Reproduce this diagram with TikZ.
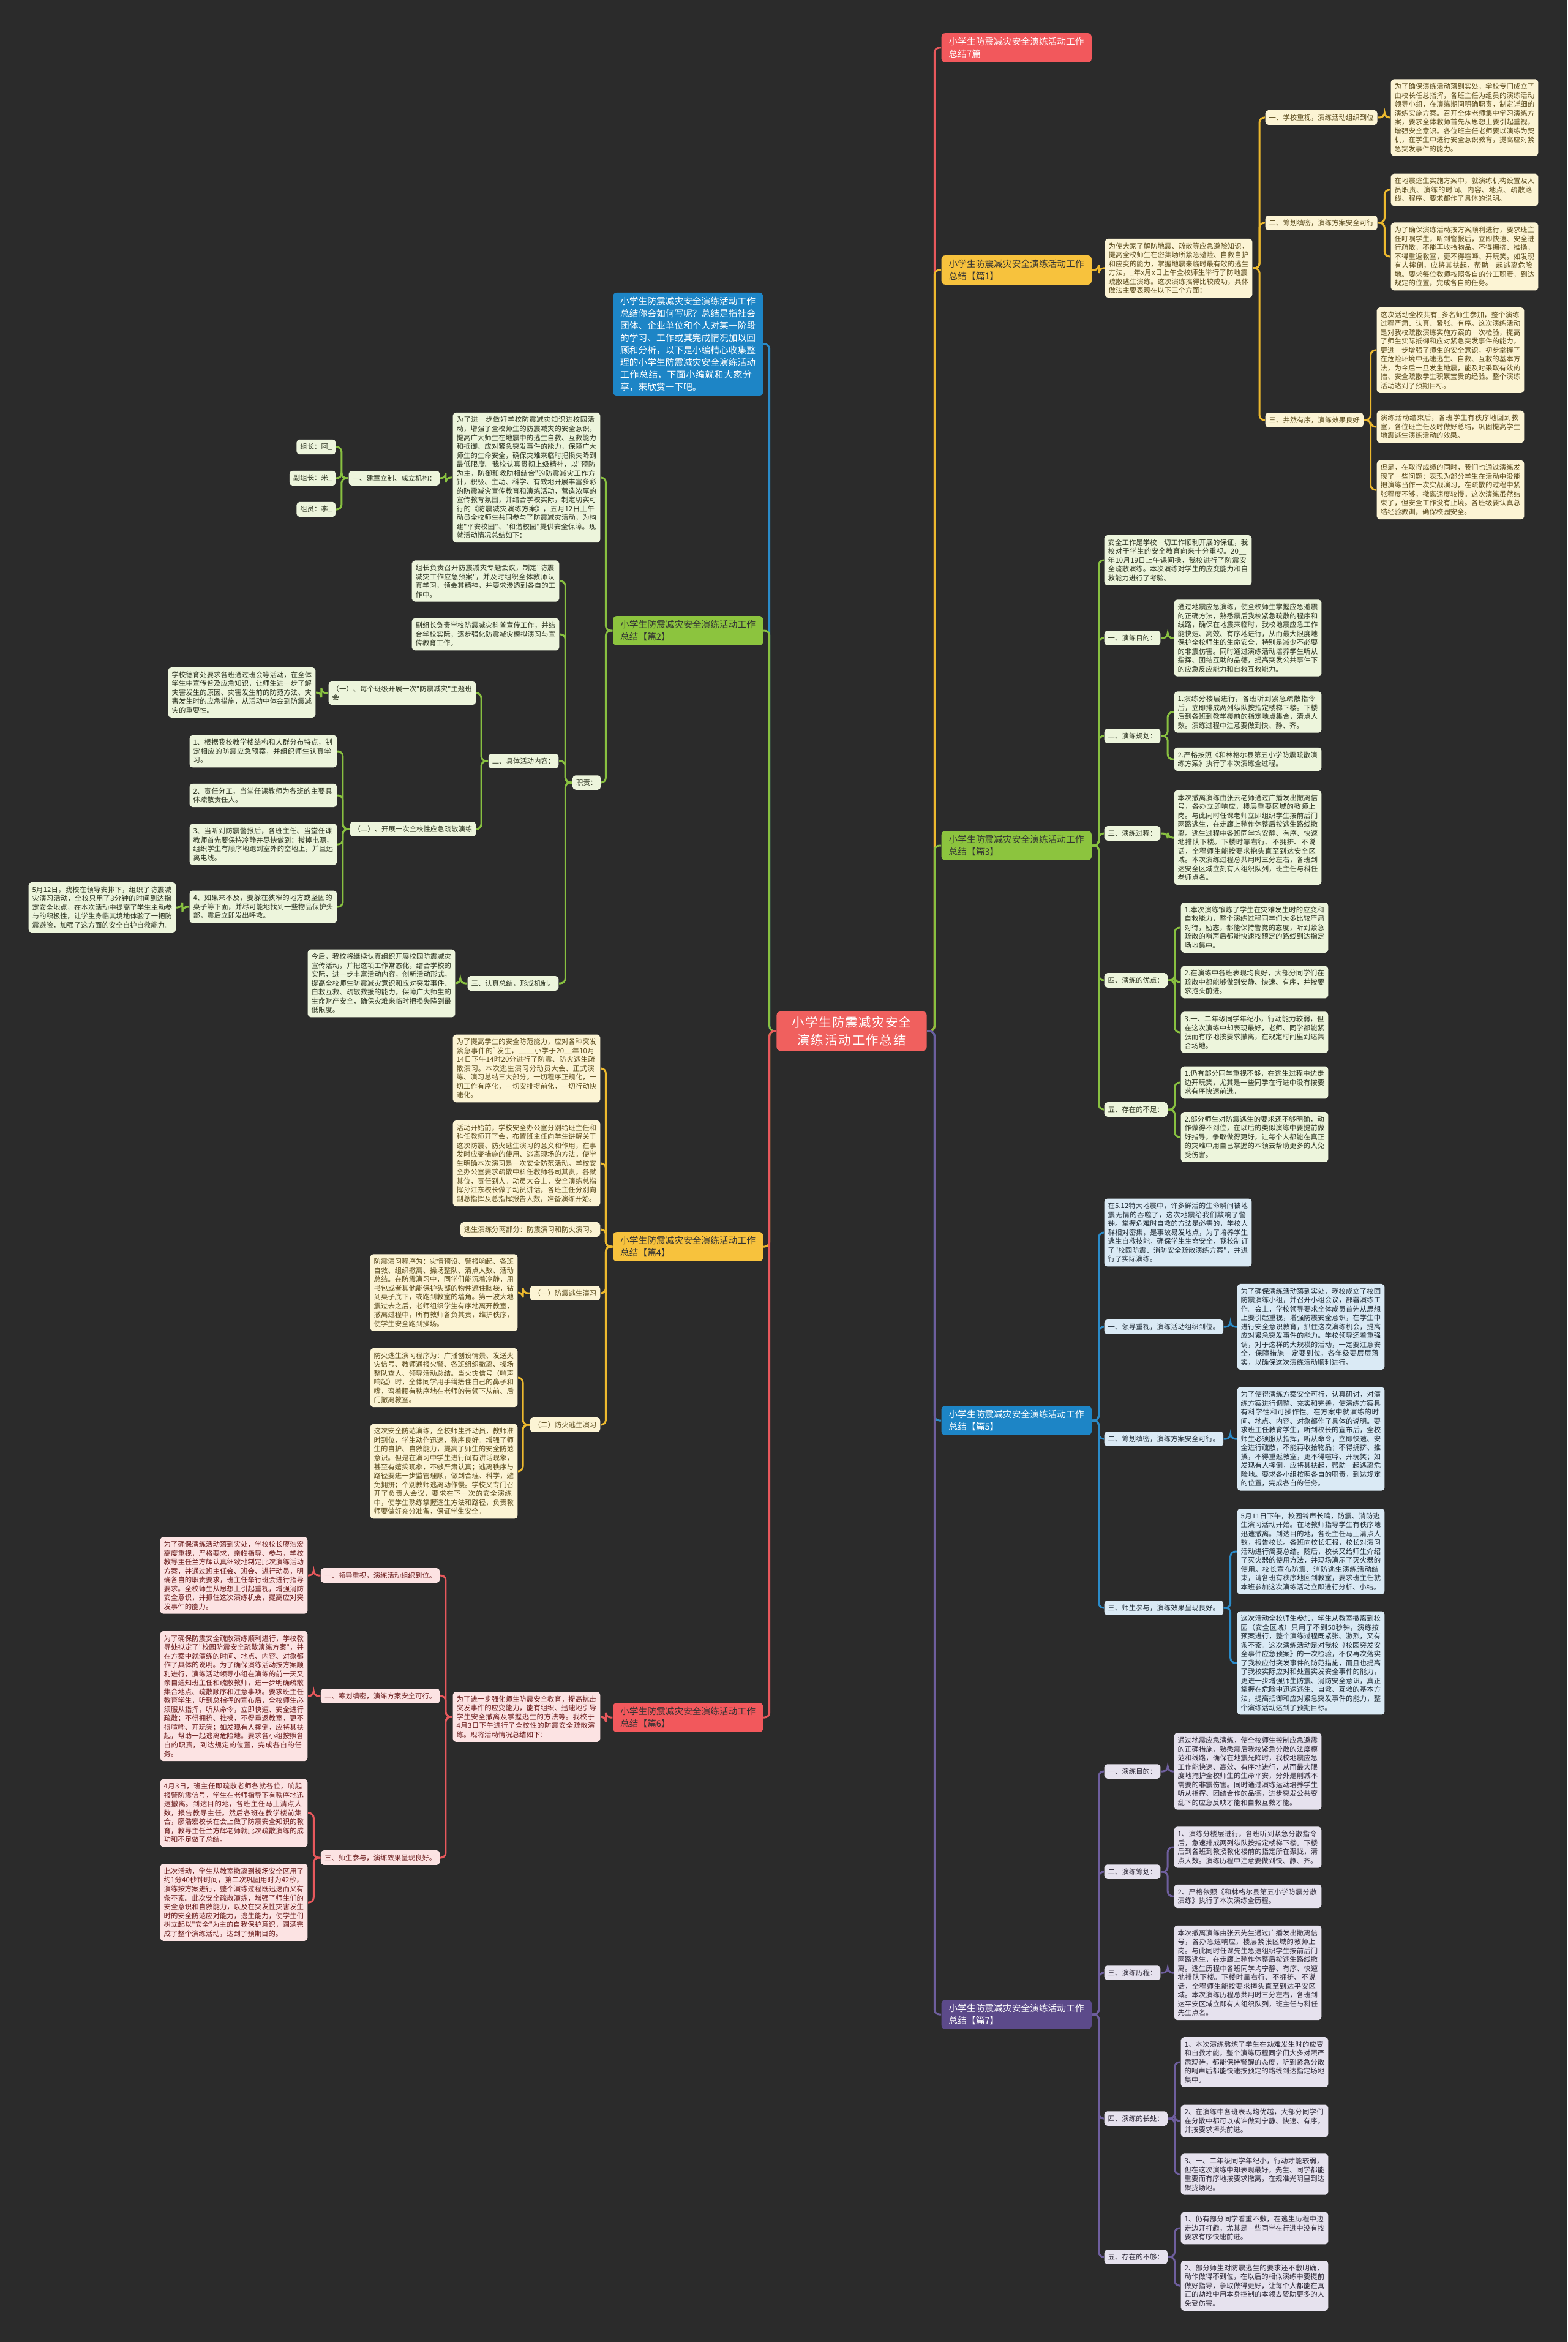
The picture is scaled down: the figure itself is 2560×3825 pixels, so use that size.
\documentclass[tikz,border=0pt]{standalone}
\usepackage{fontspec}
\newfontfamily\cjk{Noto Sans CJK SC}
\XeTeXlinebreaklocale "zh"
\XeTeXlinebreakskip=0pt plus 1pt

\definecolor{bg}{HTML}{2B2B2B}
\definecolor{cfill}{HTML}{F0605E}
\definecolor{ymain}{HTML}{F7C23D}\definecolor{yl}{HTML}{EDB92E}\definecolor{yfill}{HTML}{FCF4D4}\definecolor{ytext}{HTML}{5A4A1C}
\definecolor{gmain}{HTML}{8CC43E}\definecolor{gl}{HTML}{88C040}\definecolor{gfill}{HTML}{EDF5DC}\definecolor{gtext}{HTML}{2C3320}
\definecolor{bmain}{HTML}{1D85C6}\definecolor{bl}{HTML}{2A8BC9}\definecolor{bfill}{HTML}{DAEAF5}\definecolor{btext}{HTML}{1F2B35}
\definecolor{rmain}{HTML}{F2585C}\definecolor{rl}{HTML}{E8585C}\definecolor{rfill}{HTML}{FCE3E3}\definecolor{rtext}{HTML}{6A1B1B}
\definecolor{pmain}{HTML}{5C4A8A}\definecolor{pl}{HTML}{6E5E9E}\definecolor{pfill}{HTML}{E6E2EE}\definecolor{ptext}{HTML}{2C2736}

\tikzset{
  leafbox/.style={rounded corners=0.05cm, inner xsep=0.06cm, inner ysep=0.065cm, align=left,
    font=\cjk\fontsize{3.24pt}{4.13pt}\selectfont},
  notebox/.style={leafbox, text width=2.285cm},
  headbox/.style={rounded corners=0.06cm, inner xsep=0.12cm, inner ysep=0.07cm, align=left,
    text width=2.21cm, font=\cjk\fontsize{4.18pt}{5.69pt}\selectfont},
  rootbox/.style={rounded corners=0.06cm, fill=cfill, text=white, text width=2.25cm, align=center,
    inner xsep=0.1cm, inner ysep=0.08cm, font=\cjk\fontsize{5.8pt}{8.25pt}\selectfont},
  branchline/.style={line width=0.03cm, rounded corners=0.08cm},
  ylab/.style={leafbox, fill=yfill, text=ytext}, ynote/.style={notebox, fill=yfill, text=ytext},
  ytop/.style={headbox, fill=ymain, text=black!80}, yline/.style={branchline, draw=yl},
  glab/.style={leafbox, fill=gfill, text=gtext}, gnote/.style={notebox, fill=gfill, text=gtext},
  gtop/.style={headbox, fill=gmain, text=black!80}, gline/.style={branchline, draw=gl},
  blab/.style={leafbox, fill=bfill, text=btext}, bnote/.style={notebox, fill=bfill, text=btext},
  btop/.style={headbox, fill=bmain, text=white}, bline/.style={branchline, draw=bl},
  rlab/.style={leafbox, fill=rfill, text=rtext}, rnote/.style={notebox, fill=rfill, text=rtext},
  rtop/.style={headbox, fill=rmain, text=black!80}, rline/.style={branchline, draw=rl},
  plab/.style={leafbox, fill=pfill, text=ptext}, pnote/.style={notebox, fill=pfill, text=ptext},
  ptop/.style={headbox, fill=pmain, text=white}, pline/.style={branchline, draw=pl}
}

\begin{document}
\begin{tikzpicture}[x=0.01cm, y=-0.01cm]
\fill[bg] (0,0) rectangle (2560,3825);
\useasboundingbox (0,0) rectangle (2560,3825);

\node[rootbox] (ctr) at (1391,1684) {小学生防震减灾安全演练活动工作总结};

% right side
\node[rtop, text=white, anchor=west] (t7) at (1537,78) {小学生防震减灾安全演练活动工作总结7篇};

\node[ytop, anchor=west] (p1) at (1537,441) {小学生防震减灾安全演练活动工作总结【篇1】};
\node[ynote, anchor=west] (p1t) at (1804,438) {为使大家了解防地震、疏散等应急避险知识，提高全校师生在密集场所紧急避险、自救自护和应变的能力，掌握地震来临时最有效的逃生方法，\_年x月x日上午全校师生举行了防地震疏散逃生演练。这次演练搞得比较成功，具体做法主要表现在以下三个方面：};
\node[ylab, anchor=west] (p1a) at (2066,192) {一、学校重视，演练活动组织到位};
\node[ynote, anchor=west] (p1a1) at (2271,192) {为了确保演练活动落到实处，学校专门成立了由校长任总指挥，各班主任为组员的演练活动领导小组，在演练期间明确职责，制定详细的演练实施方案。召开全体老师集中学习演练方案，要求全体教师首先从思想上要引起重视，增强安全意识。各位班主任老师要以演练为契机，在学生中进行安全意识教育，提高应对紧急突发事件的能力。};
\node[ylab, anchor=west] (p1b) at (2066,364) {二、筹划缜密，演练方案安全可行};
\node[ynote, anchor=west] (p1b1) at (2271,310) {在地震逃生实施方案中，就演练机构设置及人员职责、演练的时间、内容、地点、疏散路线、程序、要求都作了具体的说明。};
\node[ynote, anchor=west] (p1b2) at (2271,419) {为了确保演练活动按方案顺利进行，要求班主任叮嘱学生，听到警报后，立即快速、安全进行疏散，不能再收拾物品。不得拥挤、推搡，不得重返教室，更不得喧哗、开玩笑。如发现有人摔倒，应将其扶起，帮助一起逃离危险地。要求每位教师按照各自的分工职责，到达规定的位置，完成各自的任务。};
\node[ylab, anchor=west] (p1c) at (2066,686) {三、井然有序，演练效果良好};
\node[ynote, anchor=west] (p1c1) at (2248,572) {这次活动全校共有\_多名师生参加，整个演练过程严肃、认真、紧张、有序。这次演练活动是对我校疏散演练实施方案的一次检验，提高了师生实际抵御和应对紧急突发事件的能力，更进一步增强了师生的安全意识，初步掌握了在危险环境中迅速逃生、自救、互救的基本方法，为今后一旦发生地震，能及时采取有效的措、安全疏散学生积累宝贵的经验。整个演练活动达到了预期目标。};
\node[ynote, anchor=west] (p1c2) at (2248,697) {演练活动结束后，各班学生有秩序地回到教室，各位班主任及时做好总结，巩固提高学生地震逃生演练活动的效果。};
\node[ynote, anchor=west] (p1c3) at (2248,800) {但是，在取得成绩的同时，我们也通过演练发现了一些问题：表现为部分学生在活动中没能把演练当作一次实战演习，在疏散的过程中紧张程度不够，撤离速度较慢。这次演练虽然结束了，但安全工作没有止境。各班级要认真总结经验教训，确保校园安全。};

\node[gtop, anchor=west] (p3) at (1537,1381) {小学生防震减灾安全演练活动工作总结【篇3】};
\node[gnote, anchor=west] (p3t) at (1803,915) {安全工作是学校一切工作顺利开展的保证，我校对于学生的安全教育向来十分重视。20\_\_年10月19日上午课间操，我校进行了防震安全疏散演练。本次演练对学生的应变能力和自救能力进行了考验。};
\node[glab, anchor=west] (p3a) at (1803,1042) {一、演练目的：};
\node[gnote, anchor=west] (p3a1) at (1917,1042) {通过地震应急演练，使全校师生掌握应急避震的正确方法，熟悉震后我校紧急疏散的程序和线路，确保在地震来临时，我校地震应急工作能快速、高效、有序地进行，从而最大限度地保护全校师生的生命安全，特别是减少不必要的非震伤害。同时通过演练活动培养学生听从指挥、团结互助的品德，提高突发公共事件下的应急反应能力和自救互救能力。};
\node[glab, anchor=west] (p3b) at (1803,1202) {二、演练规划：};
\node[gnote, anchor=west] (p3b1) at (1917,1163) {1.演练分楼层进行，各班听到紧急疏散指令后，立即排成两列纵队按指定楼梯下楼。下楼后到各班到教学楼前的指定地点集合，清点人数。演练过程中注意要做到快、静、齐。};
\node[gnote, anchor=west] (p3b2) at (1917,1240) {2.严格按照《和林格尔县第五小学防震疏散演练方案》执行了本次演练全过程。};
\node[glab, anchor=west] (p3c) at (1803,1361) {三、演练过程：};
\node[gnote, anchor=west] (p3c1) at (1917,1368) {本次撤离演练由张云老师通过广播发出撤离信号，各办立即响应，楼层重要区域的教师上岗。与此同时任课老师立即组织学生按前后门两路逃生，在走廊上稍作休整后按逃生路线撤离。逃生过程中各班同学均安静、有序、快速地排队下楼。下楼时靠右行、不拥挤、不说话，全程师生能按要求抱头直至到达安全区域。本次演练过程总共用时三分左右，各班到达安全区域立刻有人组织队列，班主任与科任老师点名。};
\node[glab, anchor=west] (p3d) at (1803,1601) {四、演练的优点：};
\node[gnote, anchor=west] (p3d1) at (1928,1515) {1.本次演练锻炼了学生在灾难发生时的应变和自救能力，整个演练过程同学们大多比较严肃对待，励志，都能保持警觉的态度，听到紧急疏散的哨声后都能快速按预定的路线到达指定场地集中。};
\node[gnote, anchor=west] (p3d2) at (1928,1604) {2.在演练中各班表现均良好，大部分同学们在疏散中都能够做到安静、快速、有序，并按要求抱头前进。};
\node[gnote, anchor=west] (p3d3) at (1928,1686) {3.一、二年级同学年纪小，行动能力较弱，但在这次演练中却表现最好，老师、同学都能紧张而有序地按要求撤离，在规定时间里到达集合场地。};
\node[glab, anchor=west] (p3e) at (1803,1812) {五、存在的不足：};
\node[gnote, anchor=west] (p3e1) at (1928,1768) {1.仍有部分同学重视不够，在逃生过程中边走边开玩笑，尤其是一些同学在行进中没有按要求有序快速前进。};
\node[gnote, anchor=west] (p3e2) at (1928,1857) {2.部分师生对防震逃生的要求还不够明确，动作做得不到位，在以后的类似演练中要提前做好指导，争取做得更好，让每个人都能在真正的灾难中用自己掌握的本领去帮助更多的人免受伤害。};

\node[btop, anchor=west] (p5) at (1537,2320) {小学生防震减灾安全演练活动工作总结【篇5】};
\node[bnote, anchor=west] (p5t) at (1803,2013) {在5.12特大地震中，许多鲜活的生命瞬间被地震无情的吞噬了，这次地震给我们敲响了警钟。掌握危难时自救的方法是必需的，学校人群相对密集，是事故易发地点，为了培养学生逃生自救技能，确保学生生命安全，我校制订了"校园防震、消防安全疏散演练方案"，并进行了实际演练。};
\node[blab, anchor=west] (p5a) at (1803,2167) {一、领导重视，演练活动组织到位。};
\node[bnote, anchor=west] (p5a1) at (2020,2167) {为了确保演练活动落到实处，我校成立了校园防震演练小组，并召开小组会议，部署演练工作。会上，学校领导要求全体成员首先从思想上要引起重视，增强防震安全意识，在学生中进行安全意识教育，抓住这次演练机会，提高应对紧急突发事件的能力。学校领导还着重强调，对于这样的大规模的活动，一定要注意安全，保障措施一定要到位，各年级要层层落实，以确保这次演练活动顺利进行。};
\node[blab, anchor=west] (p5b) at (1803,2350) {二、筹划缜密，演练方案安全可行。};
\node[bnote, anchor=west] (p5b1) at (2020,2350) {为了使得演练方案安全可行，认真研讨，对演练方案进行调整、充实和完善，使演练方案具有科学性和可操作性。在方案中就演练的时间、地点、内容、对象都作了具体的说明。要求班主任教育学生，听到校长的宣布后，全校师生必须服从指挥，听从命令，立即快速、安全进行疏散，不能再收拾物品；不得拥挤、推搡，不得重返教室，更不得喧哗、开玩笑；如发现有人摔倒，应将其扶起，帮助一起逃离危险地。要求各小组按照各自的职责，到达规定的位置，完成各自的任务。};
\node[blab, anchor=west] (p5c) at (1803,2626) {三、师生参与，演练效果呈现良好。};
\node[bnote, anchor=west] (p5c1) at (2020,2534) {5月11日下午，校园铃声长鸣，防震、消防逃生演习活动开始。在场教师指导学生有秩序地迅速撤离。到达目的地，各班主任马上清点人数，报告校长。各班向校长汇报，校长对演习活动进行简要总结。随后，校长又给师生介绍了灭火器的使用方法，并现场演示了灭火器的使用。校长宣布防震、消防逃生演练活动结束，请各班有秩序地回到教室，要求班主任就本班参加这次演练活动立即进行分析、小结。};
\node[bnote, anchor=west] (p5c2) at (2020,2716) {这次活动全校师生参加，学生从教室撤离到校园（安全区域）只用了不到50秒钟，演练按预案进行，整个演练过程既紧张、激烈，又有条不紊。这次演练活动是对我校《校园突发安全事件应急预案》的一次检验，不仅再次落实了我校应付突发事件的防范措施，而且也提高了我校实际应对和处置实发安全事件的能力，更进一步增强师生防震、消防安全意识，真正掌握在危险中迅速逃生、自救、互救的基本方法，提高抵御和应对紧急突发事件的能力，整个演练活动达到了预期目标。};

\node[ptop, anchor=west] (p7) at (1537,3290) {小学生防震减灾安全演练活动工作总结【篇7】};
\node[plab, anchor=west] (p7a) at (1803,2893) {一、演练目的：};
\node[pnote, anchor=west] (p7a1) at (1917,2893) {通过地震应急演练，使全校师生控制应急避震的正确措施，熟悉震后我校紧急分散的法度模范和线路，确保在地震光降时，我校地震应急工作能快速、高效、有序地进行，从而最大限度地掩护全校师生的生命平安，分外是削减不需要的非震伤害。同时通过演练运动培养学生听从指挥、团结合作的品德，进步突发公共变乱下的应急反映才能和自救互救才能。};
\node[plab, anchor=west] (p7b) at (1803,3057) {二、演练筹划：};
\node[pnote, anchor=west] (p7b1) at (1917,3017) {1、演练分楼层进行，各班听到紧急分散指令后，急速排成两列纵队按指定楼梯下楼。下楼后到各班到教授教化楼前的指定所在聚拢，清点人数。演练历程中注意要做到快、静、齐。};
\node[pnote, anchor=west] (p7b2) at (1917,3097) {2、严格依照《和林格尔县第五小学防震分散演练》执行了本次演练全历程。};
\node[plab, anchor=west] (p7c) at (1803,3222) {三、演练历程：};
\node[pnote, anchor=west] (p7c1) at (1917,3222) {本次撤离演练由张云先生通过广播发出撤离信号，各办急速响应，楼层紧张区域的教师上岗。与此同时任课先生急速组织学生按前后门两路逃生，在走廊上稍作休整后按逃生路线撤离。逃生历程中各班同学均宁静、有序、快速地排队下楼。下楼时靠右行、不拥挤、不说话，全程师生能按要求捧头直至到达平安区域。本次演练历程总共用时三分左右，各班到达平安区域立即有人组织队列，班主任与科任先生点名。};
\node[plab, anchor=west] (p7d) at (1803,3460) {四、演练的长处：};
\node[pnote, anchor=west] (p7d1) at (1928,3368) {1、本次演练熬炼了学生在劫难发生时的应变和自救才能，整个演练历程同学们大多对照严肃观待，都能保持警醒的态度，听到紧急分散的哨声后都能快速按预定的路线到达指定场地集中。};
\node[pnote, anchor=west] (p7d2) at (1928,3464) {2、在演练中各班表现均优越，大部分同学们在分散中都可以或许做到宁静、快速、有序，并按要求捧头前进。};
\node[pnote, anchor=west] (p7d3) at (1928,3551) {3、一、二年级同学年纪小，行动才能较弱，但在这次演练中却表现最好，先生、同学都能重要而有序地按要求撤离，在规准光阴里到达聚拢场地。};
\node[plab, anchor=west] (p7e) at (1803,3686) {五、存在的不够：};
\node[pnote, anchor=west] (p7e1) at (1928,3639) {1、仍有部分同学看重不敷，在逃生历程中边走边开打趣，尤其是一些同学在行进中没有按要求有序快速前进。};
\node[pnote, anchor=west] (p7e2) at (1928,3733) {2、部分师生对防震逃生的要求还不敷明确，动作做得不到位，在以后的相似演练中要提前做好指导，争取做得更好，让每个人都能在真正的劫难中用本身控制的本领去赞助更多的人免受伤害。};

% left side
\node[btop, anchor=east] (intro) at (1247,562) {小学生防震减灾安全演练活动工作总结你会如何写呢？总结是指社会团体、企业单位和个人对某一阶段的学习、工作或其完成情况加以回顾和分析，以下是小编精心收集整理的小学生防震减灾安全演练活动工作总结，下面小编就和大家分享，来欣赏一下吧。};

\node[gtop, anchor=east] (p2) at (1247,1030) {小学生防震减灾安全演练活动工作总结【篇2】};
\node[gnote, anchor=east] (p2t) at (981,780) {为了进一步做好学校防震减灾知识进校园活动，增强了全校师生的防震减灾的安全意识，提高广大师生在地震中的逃生自救、互救能力和抵御、应对紧急突发事件的能力，保障广大师生的生命安全，确保灾难来临时把损失降到最低限度。我校认真贯彻上级精神，以"预防为主，防御和救助相结合"的防震减灾工作方针，积极、主动、科学、有效地开展丰富多彩的防震减灾宣传教育和演练活动，营造浓厚的宣传教育氛围，并结合学校实际，制定切实可行的《防震减灾演练方案》，五月12日上午动员全校师生共同参与了防震减灾活动，为构建"平安校园"、"和谐校园"提供安全保障。现就活动情况总结如下：};
\node[glab, anchor=east] (p2a) at (719,781) {一、建章立制、成立机构：};
\node[glab, anchor=east] (p2a1) at (549,730) {组长：阿\_};
\node[glab, anchor=east] (p2a2) at (549,781) {副组长：米\_};
\node[glab, anchor=east] (p2a3) at (549,832) {组员：李\_};
\node[glab, anchor=east] (p2j) at (982,1278) {职责：};
\node[gnote, anchor=east] (p2j1) at (914,949) {组长负责召开防震减灾专题会议，制定"防震减灾工作应急预案"，并及时组织全体教师认真学习，领会其精神，并要求渗透到各自的工作中。};
\node[gnote, anchor=east] (p2j2) at (914,1036) {副组长负责学校防震减灾科普宣传工作，并结合学校实际，逐步强化防震减灾模拟演习与宣传教育工作。};
\node[glab, anchor=east] (p2j3) at (913,1243) {二、具体活动内容：};
\node[gnote, anchor=east] (p2k1) at (778,1132) {（一）、每个班级开展一次"防震减灾"主题班会};
\node[gnote, anchor=east] (p2k1a) at (516,1131) {学校德育处要求各班通过班会等活动，在全体学生中宣传普及应急知识，让师生进一步了解灾害发生的原因、灾害发生前的防范方法、灾害发生时的应急措施，从活动中体会到防震减灾的重要性。};
\node[glab, anchor=east] (p2k2) at (778,1354) {（二）、开展一次全校性应急疏散演练};
\node[gnote, anchor=east] (p2m1) at (551,1227) {1、根据我校教学楼结构和人群分布特点，制定相应的防震应急预案，并组织师生认真学习。};
\node[gnote, anchor=east] (p2m2) at (551,1299) {2、责任分工，当堂任课教师为各班的主要具体疏散责任人。};
\node[gnote, anchor=east] (p2m3) at (551,1379) {3、当听到防震警报后，各班主任、当堂任课教师首先要保持冷静并尽快做到：拔掉电源，组织学生有顺序地跑到室外的空地上，并且远离电线。};
\node[gnote, anchor=east] (p2m4) at (551,1481) {4、如果来不及，要躲在狭窄的地方或坚固的桌子等下面，并尽可能地找到一些物品保护头部，震后立即发出呼救。};
\node[gnote, anchor=east] (p2m4a) at (288,1482) {5月12日，我校在领导安排下，组织了防震减灾演习活动，全校只用了3分钟的时间到达指定安全地点，在本次活动中提高了学生主动参与的积极性，让学生身临其境地体验了一把防震避险，加强了这方面的安全自护自救能力。};
\node[glab, anchor=east] (p2j4) at (913,1606) {三、认真总结，形成机制。};
\node[gnote, anchor=east] (p2j4a) at (744,1606) {今后，我校将继续认真组织开展校园防震减灾宣传活动，并把这项工作常态化，结合学校的实际，进一步丰富活动内容，创新活动形式，提高全校师生防震减灾意识和应对突发事件、自救互救、疏散救援的能力，保障广大师生的生命财产安全，确保灾难来临时把损失降到最低限度。};

\node[ytop, anchor=east] (p4) at (1247,2036) {小学生防震减灾安全演练活动工作总结【篇4】};
\node[ynote, anchor=east] (p4a) at (981,1745) {为了提高学生的安全防范能力，应对各种突发紧急事件的\textasciigrave 发生，\_\_\_\_小学于20\_\_年10月14日下午14时20分进行了防震、防火逃生疏散演习。本次逃生演习分动员大会、正式演练、演习总结三大部分。一切程序正规化，一切工作有序化，一切安排提前化，一切行动快速化。};
\node[ynote, anchor=east] (p4b) at (981,1900) {活动开始前，学校安全办公室分别给班主任和科任教师开了会，布置班主任向学生讲解关于这次防震、防火逃生演习的意义和作用，在事发时应变措施的使用、逃离现场的方法。使学生明确本次演习是一次安全防范活动。学校安全办公室要求疏散中科任教师各司其责，各就其位，责任到人。动员大会上，安全演练总指挥孙江东校长做了动员讲话，各班主任分别向副总指挥及总指挥报告人数，准备演练开始。};
\node[ylab, anchor=east] (p4c) at (981,2008) {逃生演练分两部分：防震演习和防火演习。};
\node[ylab, anchor=east] (p4d) at (981,2112) {（一）防震逃生演习};
\node[ynote, anchor=east] (p4d1) at (846,2111) {防震演习程序为：灾情预设、警报响起、各班自救、组织撤离、操场整队、清点人数、活动总结。在防震演习中，同学们能沉着冷静，用书包或者其他能保护头部的物件遮住脑袋，钻到桌子底下，或跑到教室的墙角。第一波大地震过去之后，老师组织学生有序地离开教室，撤离过程中，所有教师各负其责，维护秩序，使学生安全跑到操场。};
\node[ylab, anchor=east] (p4e) at (981,2327) {（二）防火逃生演习};
\node[ynote, anchor=east] (p4e1) at (846,2250) {防火逃生演习程序为：广播创设情景、发送火灾信号、教师通报火警、各班组织撤离、操场整队查人、领导活动总结。当火灾信号（哨声响起）时，全体同学用手绢捂住自己的鼻子和嘴，弯着腰有秩序地在老师的带领下从前、后门撤离教室。};
\node[ynote, anchor=east] (p4e2) at (846,2403) {这次安全防范演练，全校师生齐动员，教师准时到位，学生动作迅速，秩序良好。增强了师生的自护、自救能力，提高了师生的安全防范意识。但是在演习中学生进行间有讲话现象，甚至有嬉笑现象，不够严肃认真；逃离秩序与路径要进一步监管理顺，做到合理、科学，避免拥挤；个别教师逃离动作慢。学校又专门召开了负责人会议，要求在下一次的安全演练中，使学生熟练掌握逃生方法和路径，负责教师要做好充分准备，保证学生安全。};

\node[rtop, anchor=east] (p6) at (1247,2805) {小学生防震减灾安全演练活动工作总结【篇6】};
\node[rnote, anchor=east] (p6t) at (981,2804) {为了进一步强化师生防震安全教育，提高抗击突发事件的应变能力，能有组织、迅速地引导学生安全撤离及掌握逃生的方法等。我校于4月3日下午进行了全校性的防震安全疏散演练。现将活动情况总结如下：};
\node[rlab, anchor=east] (p6a) at (719,2573) {一、领导重视，演练活动组织到位。};
\node[rnote, anchor=east] (p6a1) at (503,2573) {为了确保演练活动落到实处，学校校长廖浩宏高度重视，严格要求，亲临指导、参与，学校教导主任兰方辉认真细致地制定此次演练活动方案，并通过班主任会、班会、进行动员，明确各自的职责要求，班主任举行班会进行指导要求。全校师生从思想上引起重视，增强消防安全意识，并抓住这次演练机会，提高应对突发事件的能力。};
\node[rlab, anchor=east] (p6b) at (719,2770) {二、筹划缜密，演练方案安全可行。};
\node[rnote, anchor=east] (p6b1) at (503,2770) {为了确保防震安全疏散演练顺利进行，学校教导处拟定了"校园防震安全疏散演练方案"，并在方案中就演练的时间、地点、内容、对象都作了具体的说明。为了确保演练活动按方案顺利进行，演练活动领导小组在演练的前一天又亲自通知班主任和疏散教师，进一步明确疏散集合地点、疏散顺序和注意事项。要求班主任教育学生，听到总指挥的宣布后，全校师生必须服从指挥，听从命令，立即快速、安全进行疏散；不得拥挤、推搡，不得重返教室，更不得喧哗、开玩笑；如发现有人摔倒，应将其扶起，帮助一起逃离危险地。要求各小组按照各自的职责，到达规定的位置，完成各自的任务。};
\node[rlab, anchor=east] (p6c) at (719,3034) {三、师生参与，演练效果呈现良好。};
\node[rnote, anchor=east] (p6c1) at (503,2961) {4月3日，班主任即疏散老师各就各位，响起报警防震信号，学生在老师指导下有秩序地迅速撤离。到达目的地，各班主任马上清点人数，报告教导主任。然后各班在教学楼前集合，廖浩宏校长在会上做了防震安全知识的教育，教导主任兰方辉老师就此次疏散演练的成功和不足做了总结。};
\node[rnote, anchor=east] (p6c2) at (503,3107) {此次活动，学生从教室撤离到操场安全区用了约1分40秒钟时间，第二次巩固用时为42秒，演练按方案进行，整个演练过程既迅速而又有条不紊。此次安全疏散演练，增强了师生们的安全意识和自救能力，以及在突发性灾害发生时的安全防范应对能力，逃生能力，使学生们树立起以"安全"为主的自我保护意识，圆满完成了整个演练活动，达到了预期目的。};

% centre to branches
\foreach \n/\c in {t7/rl, p1/yl, p3/gl, p5/bl, p7/pl}
  \draw[branchline, draw=\c] (ctr.east) -- ++(12,0) |- (\n.west);
\foreach \n/\c in {intro/bl, p2/gl, p4/yl, p6/rl}
  \draw[branchline, draw=\c] (ctr.west) -- ++(-11,0) |- (\n.east);

% right branches
\draw[yline] (p1.east) -- ++(11,0) |- (p1t.west);
\foreach \n in {p1a,p1b,p1c} \draw[yline] (p1t.east) -- ++(11,0) |- (\n.west);
\draw[yline] (p1a.east) -- ++(11,0) |- (p1a1.west);
\foreach \n in {p1b1,p1b2} \draw[yline] (p1b.east) -- ++(11,0) |- (\n.west);
\foreach \n in {p1c1,p1c2,p1c3} \draw[yline] (p1c.east) -- ++(11,0) |- (\n.west);

\foreach \n in {p3t,p3a,p3b,p3c,p3d,p3e} \draw[gline] (p3.east) -- ++(11,0) |- (\n.west);
\draw[gline] (p3a.east) -- ++(11,0) |- (p3a1.west);
\foreach \n in {p3b1,p3b2} \draw[gline] (p3b.east) -- ++(11,0) |- (\n.west);
\draw[gline] (p3c.east) -- ++(11,0) |- (p3c1.west);
\foreach \n in {p3d1,p3d2,p3d3} \draw[gline] (p3d.east) -- ++(11,0) |- (\n.west);
\foreach \n in {p3e1,p3e2} \draw[gline] (p3e.east) -- ++(11,0) |- (\n.west);

\foreach \n in {p5t,p5a,p5b,p5c} \draw[bline] (p5.east) -- ++(11,0) |- (\n.west);
\draw[bline] (p5a.east) -- ++(11,0) |- (p5a1.west);
\draw[bline] (p5b.east) -- ++(11,0) |- (p5b1.west);
\foreach \n in {p5c1,p5c2} \draw[bline] (p5c.east) -- ++(11,0) |- (\n.west);

\foreach \n in {p7a,p7b,p7c,p7d,p7e} \draw[pline] (p7.east) -- ++(11,0) |- (\n.west);
\draw[pline] (p7a.east) -- ++(11,0) |- (p7a1.west);
\foreach \n in {p7b1,p7b2} \draw[pline] (p7b.east) -- ++(11,0) |- (\n.west);
\draw[pline] (p7c.east) -- ++(11,0) |- (p7c1.west);
\foreach \n in {p7d1,p7d2,p7d3} \draw[pline] (p7d.east) -- ++(11,0) |- (\n.west);
\foreach \n in {p7e1,p7e2} \draw[pline] (p7e.east) -- ++(11,0) |- (\n.west);

% left branches
\foreach \n in {p2t,p2j} \draw[gline] (p2.west) -- ++(-11,0) |- (\n.east);
\draw[gline] (p2t.west) -- ++(-11,0) |- (p2a.east);
\foreach \n in {p2a1,p2a2,p2a3} \draw[gline] (p2a.west) -- ++(-11,0) |- (\n.east);
\foreach \n in {p2j1,p2j2,p2j3,p2j4} \draw[gline] (p2j.west) -- ++(-11,0) |- (\n.east);
\foreach \n in {p2k1,p2k2} \draw[gline] (p2j3.west) -- ++(-11,0) |- (\n.east);
\draw[gline] (p2k1.west) -- ++(-11,0) |- (p2k1a.east);
\foreach \n in {p2m1,p2m2,p2m3,p2m4} \draw[gline] (p2k2.west) -- ++(-11,0) |- (\n.east);
\draw[gline] (p2m4.west) -- ++(-11,0) |- (p2m4a.east);
\draw[gline] (p2j4.west) -- ++(-11,0) |- (p2j4a.east);

\foreach \n in {p4a,p4b,p4c,p4d,p4e} \draw[yline] (p4.west) -- ++(-11,0) |- (\n.east);
\draw[yline] (p4d.west) -- ++(-11,0) |- (p4d1.east);
\foreach \n in {p4e1,p4e2} \draw[yline] (p4e.west) -- ++(-11,0) |- (\n.east);

\draw[rline] (p6.west) -- ++(-11,0) |- (p6t.east);
\foreach \n in {p6a,p6b,p6c} \draw[rline] (p6t.west) -- ++(-11,0) |- (\n.east);
\draw[rline] (p6a.west) -- ++(-11,0) |- (p6a1.east);
\draw[rline] (p6b.west) -- ++(-11,0) |- (p6b1.east);
\foreach \n in {p6c1,p6c2} \draw[rline] (p6c.west) -- ++(-11,0) |- (\n.east);
\end{tikzpicture}
\end{document}
